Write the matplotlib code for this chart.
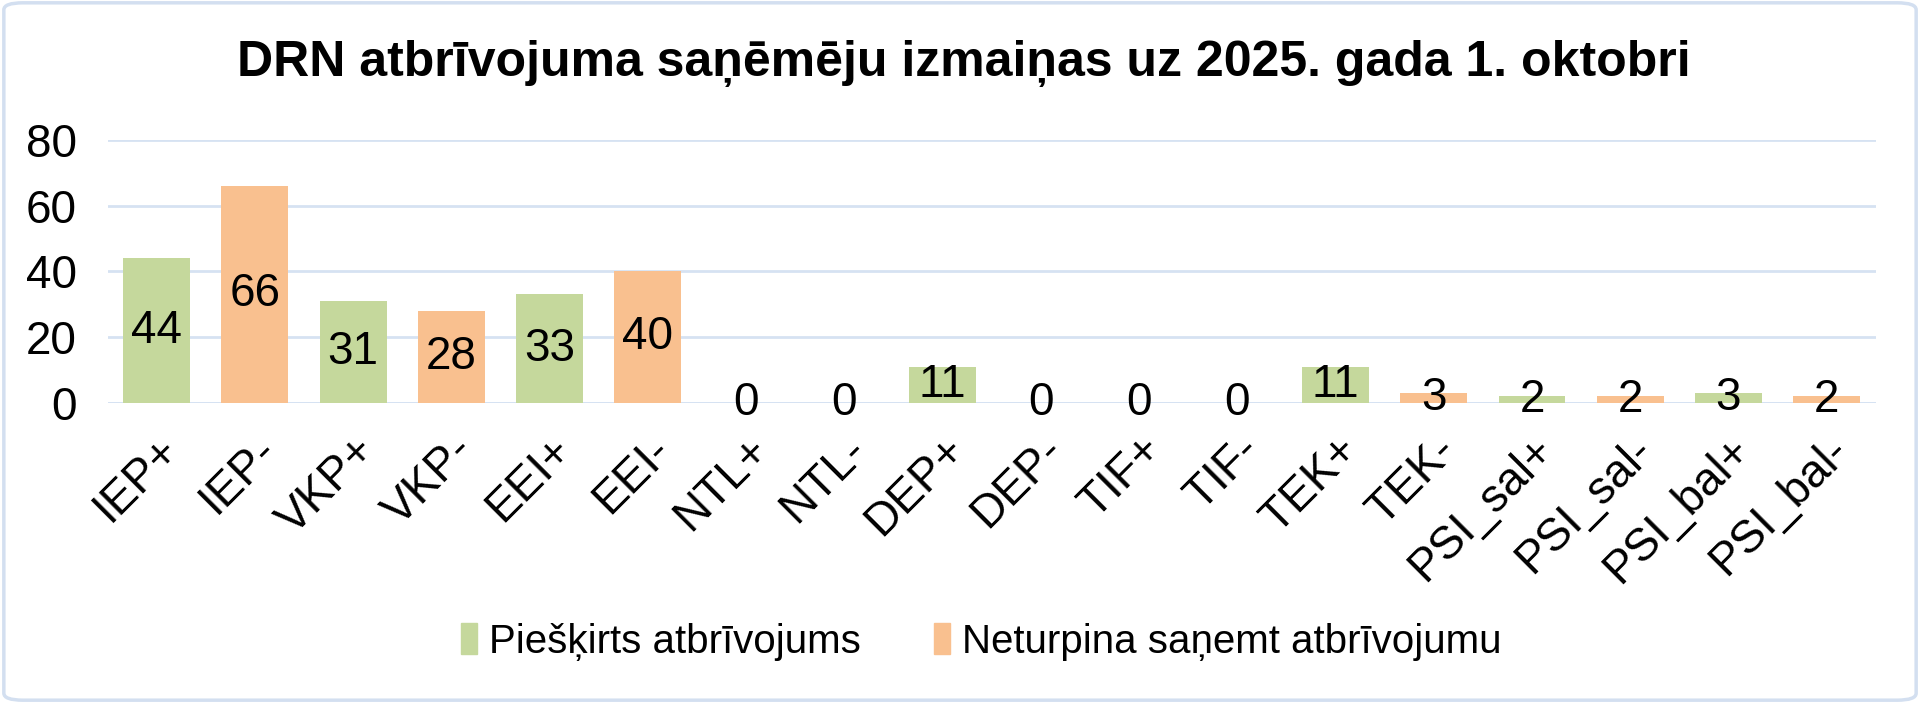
import matplotlib.pyplot as plt
from matplotlib.patches import FancyBboxPatch, Patch

# === data ===
categories = ['IEP+', 'IEP-', 'VKP+', 'VKP-', 'EEI+', 'EEI-', 'NTL+', 'NTL-', 'DEP+', 'DEP-',
              'TIF+', 'TIF-', 'TEK+', 'TEK-', 'PSI_sal+', 'PSI_sal-', 'PSI_bal+', 'PSI_bal-']
values = [44, 66, 31, 28, 33, 40, 0, 0, 11, 0, 0, 0, 11, 3, 2, 2, 3, 2]
series_names = ['Piešķirts atbrīvojums', 'Neturpina saņemt atbrīvojumu']

green = '#c5d89c'
orange = '#f9c08f'
grid_col = '#d6e2f2'

plt.rcParams['font.family'] = ['Liberation Sans', 'DejaVu Sans']

fig = plt.figure(figsize=(19.2, 7.03), dpi=100)
ax = fig.add_axes([0.056, 0.427, 0.921, 0.374])

colors = [green if c.endswith('+') else orange for c in categories]
x = list(range(len(categories)))
ax.bar(x, values, width=0.68, color=colors, zorder=3)

for xi, v in zip(x, values):
    ax.text(xi, v / 2, str(v), ha='center', va='center', fontsize=33, zorder=4)

ax.set_xlim(-0.5, len(categories) - 0.5)
ax.set_ylim(0, 80)
ax.set_yticks([0, 20, 40, 60, 80])
ax.tick_params(axis='y', labelsize=33, length=0, pad=22)
ax.set_xticks(x)
ax.set_xticklabels(categories, rotation=45, ha='right', va='top', rotation_mode='anchor', fontsize=33)
ax.tick_params(axis='x', length=0, pad=18)
ax.grid(axis='y', color=grid_col, linewidth=2, zorder=0)
for s in ax.spines.values():
    s.set_visible(False)
ax.axhline(0, color=grid_col, linewidth=2, zorder=2)

fig.text(0.502, 0.91, 'DRN atbrīvojuma saņēmēju izmaiņas uz 2025. gada 1. oktobri',
         ha='center', va='center', fontsize=36, fontweight='bold')

handles = [Patch(color=green, label=series_names[0]), Patch(color=orange, label=series_names[1])]
fig.legend(handles=handles, loc='center', bbox_to_anchor=(0.511, 0.087), ncol=2, frameon=False,
           fontsize=29, handlelength=0.4, handleheight=0.8, handletextpad=0.3, columnspacing=1.8)

# light border round the chart
border = FancyBboxPatch((0.002, 0.004), 0.996, 0.992, boxstyle='round,pad=0,rounding_size=0.01',
                        transform=fig.transFigure, fill=False, edgecolor='#d3dff0', linewidth=2.5)
fig.patches.append(border)

plt.savefig('out.png')
